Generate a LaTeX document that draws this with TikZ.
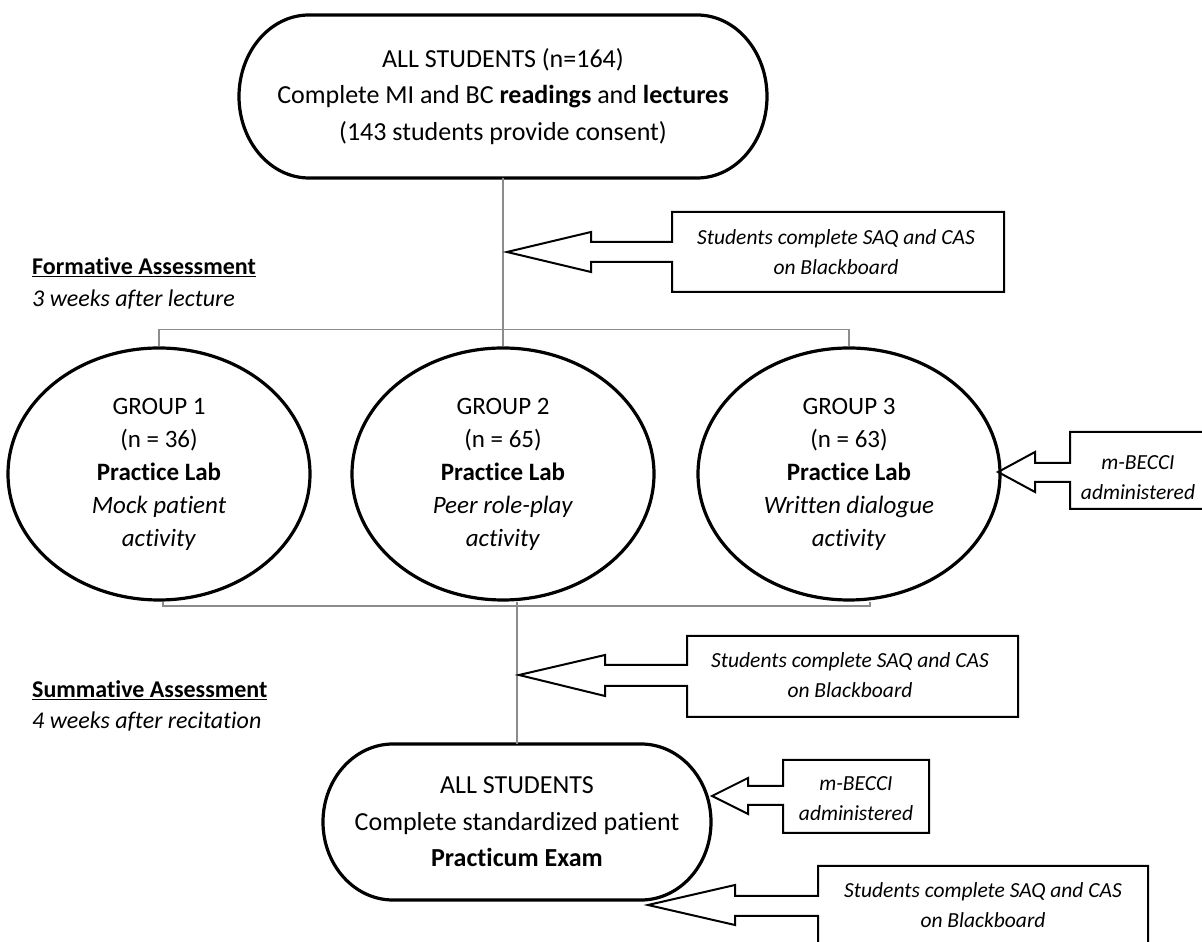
\documentclass[tikz,border=0pt]{standalone}
\usepackage{fontspec}
\setmainfont{Carlito}[Ligatures=NoCommon]
\usetikzlibrary{shapes.geometric,calc}
\definecolor{connc}{HTML}{8C8C8C}
\begin{document}
\begin{tikzpicture}[x=1pt,y=1pt,
  term/.style={draw=none, inner sep=0pt, align=center, font=\fontsize{26}{36.5}\selectfont},
  grp/.style={ellipse, draw, line width=3.2pt, inner sep=0pt, minimum width=302pt, minimum height=252pt, align=center, font=\fontsize{25}{33}\selectfont},
  outline/.style={line width=3.2pt},
  callout/.style={line width=2pt, line join=miter},
  ctext/.style={align=center, inner sep=0pt, font=\fontsize{21.5}{30}\selectfont\itshape},
  lbl/.style={anchor=west, inner sep=0pt, font=\fontsize{24}{32}\selectfont},
  conn/.style={draw=connc, line width=1.3pt}]
\useasboundingbox (0,0) rectangle (1202,942);
\clip (0,0) rectangle (1202,942);

% top terminator
\draw[outline] (309,927) -- (697,927) arc[start angle=90,end angle=-90,x radius=70,y radius=81.5]
  -- (309,764) arc[start angle=270,end angle=90,x radius=70,y radius=81.5] -- cycle;
\node[term, minimum width=528pt, minimum height=163pt] (top) at (503,845.5)
  {ALL STUDENTS (n=164)\\Complete MI and BC \textbf{readings} and \textbf{lectures}\\(143 students provide consent)};

% groups
\node[grp] (g1) at (159,468) {GROUP 1\\(n = 36)\\\textbf{Practice Lab}\\\textit{Mock patient}\\\textit{activity}};
\node[grp] (g2) at (503,468) {GROUP 2\\(n = 65)\\\textbf{Practice Lab}\\\textit{Peer role-play}\\\textit{activity}};
\node[grp] (g3) at (849,468) {GROUP 3\\(n = 63)\\\textbf{Practice Lab}\\\textit{Written dialogue}\\\textit{activity}};

% bottom terminator
\draw[outline] (393,198) -- (641,198) arc[start angle=90,end angle=-90,x radius=70,y radius=78]
  -- (393,42) arc[start angle=270,end angle=90,x radius=70,y radius=78] -- cycle;
\node[term, minimum width=388pt, minimum height=156pt] (bot) at (517,120)
  {ALL STUDENTS\\Complete standardized patient\\\textbf{Practicum Exam}};

% connectors
\draw[conn] (top.south) -- (g2.north);
\draw[conn] (g1.north) -- ++(0,17) -| (g3.north);
\coordinate (bl) at (163,336);
\coordinate (br) at (870,336);
\draw[conn] (bl |- g1.south) -- (bl) -- (br) -- (br |- g3.south);
\draw[conn] (bot.north |- g2.south) -- (bot.north);

% labels
\node[lbl] (fa) at (32,675) {\underline{\textbf{Formative Assessment}}};
\node[lbl] (fw) at (32,642) {\textit{3 weeks after lecture}};
\node[lbl] (sa) at (32,252) {\underline{\textbf{Summative Assessment}}};
\node[lbl] (sw) at (32,220) {\textit{4 weeks after recitation}};

% callout 1
\draw[callout] (672,730) -- (1004,730) -- (1004,650) -- (672,650) -- (672,680) -- (591,680) -- (591,670)
  -- (507,690) -- (591,710) -- (591,700) -- (672,700) -- cycle;
\node[ctext] (c1) at (836,690) {Students complete SAQ and CAS\\on Blackboard};

% callout 2
\draw[callout] (1070,510) -- (1215,510) -- (1215,433) -- (1070,433) -- (1070,460) -- (1035,460) -- (1035,450)
  -- (998,470) -- (1035,490) -- (1035,479) -- (1070,479) -- cycle;
\node[ctext] (c2) at (1138,464.5) {m-BECCI\\administered};

% callout 3
\draw[callout] (687,306) -- (1018,306) -- (1018,225) -- (687,225) -- (687,256) -- (605,256) -- (605,246)
  -- (519,267) -- (605,287) -- (605,277) -- (687,277) -- cycle;
\node[ctext] (c3) at (850,266.5) {Students complete SAQ and CAS\\on Blackboard};

% callout 4
\draw[callout] (783,182) -- (929,182) -- (929,109) -- (783,109) -- (783,137) -- (748,137) -- (748,128)
  -- (712,146) -- (748,164) -- (748,156) -- (783,156) -- cycle;
\node[ctext] (c4) at (856,143) {m-BECCI\\administered};

% callout 5
\draw[callout] (818,76) -- (1148,76) -- (1148,-20) -- (818,-20) -- (818,26) -- (735,26) -- (735,17)
  -- (648,37) -- (735,57) -- (735,46) -- (818,46) -- cycle;
\node[ctext] (c5) at (983,37) {Students complete SAQ and CAS\\on Blackboard};
\end{tikzpicture}
\end{document}
